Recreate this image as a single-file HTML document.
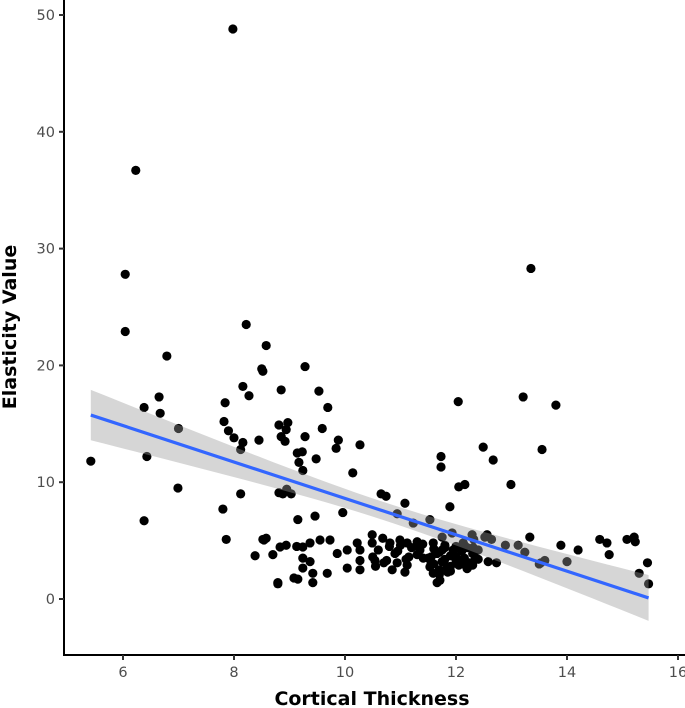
<!DOCTYPE html>
<html><head><meta charset="utf-8"><style>
body{margin:0;background:#fff;}
svg{display:block;font-family:"DejaVu Sans","Liberation Sans",sans-serif;}
</style></head><body>
<svg id="chart" width="685" height="708"></svg>
<script>
const xs=[5.42,6.23,6.04,6.04,6.38,6.43,6.38,6.65,6.67,6.79,7.0,6.99,7.98,8.22,7.84,7.82,7.9,8.0,8.16,8.12,8.16,8.27,8.58,8.5,8.52,8.45,7.8,7.86,8.12,8.38,8.52,8.58,8.81,8.81,8.85,8.85,8.92,8.94,8.97,8.88,8.95,9.03,8.94,8.7,8.79,9.14,9.17,9.24,9.23,9.28,9.28,9.15,9.13,9.08,9.48,9.46,9.53,9.59,9.69,9.84,9.88,9.96,10.14,10.27,10.65,10.74,11.08,10.94,11.23,11.53,11.73,11.73,11.89,12.04,12.05,12.16,12.49,12.67,12.99,13.21,13.35,13.55,13.8,14.2,14.59,14.72,14.76,15.08,15.21,15.23,15.45,15.47,13.89,13.53,13.6,13.33,13.24,13.12,12.89,12.64,12.52,12.73,12.31,12.32,
8.54,8.83,9.24,9.37,9.55,9.73,9.24,9.37,9.24,9.42,9.42,9.68,9.86,10.04,10.22,10.27,10.27,10.27,10.04,10.49,10.49,10.54,10.68,10.81,10.99,11.12,11.3,10.85,10.94,11.12,11.08,11.35,11.41,11.59,11.66,11.53,11.59,11.71,11.84,11.95,12.07,12.13,12.22,12.38,12.29,12.56,12.58,11.93,11.75,11.66,9.15,8.79,
11.6,11.7,11.8,11.9,12.0,12.1,12.2,11.65,11.75,11.85,11.95,12.05,12.15,12.25,11.7,11.8,11.9,12.0,12.1,11.55,12.3,12.4,13.5,14.0,15.3,
10.5,10.6,10.7,10.8,10.9,11.0,11.1,11.2,11.3,11.4,11.5,11.6,11.7,11.8,11.9,12.0,12.1,12.2,12.3,12.4,10.55,10.75,10.95,11.15,11.35,11.55,11.75,11.95,12.15,12.35];
const ys=[11.8,36.7,27.8,22.9,16.4,12.2,6.7,17.3,15.9,20.8,14.6,9.5,48.8,23.5,16.8,15.2,14.4,13.8,13.4,12.8,18.2,17.4,21.7,19.7,19.5,13.6,7.7,5.1,9.0,3.7,5.1,5.2,9.1,14.9,13.9,17.9,13.5,14.5,15.1,9.0,9.4,9.0,4.6,3.8,1.3,12.5,11.7,11.0,12.6,19.9,13.9,6.8,4.5,1.8,12.0,7.1,17.8,14.6,16.4,12.9,13.6,7.4,10.8,13.2,9.0,8.8,8.2,7.3,6.5,6.8,12.2,11.3,7.9,16.9,9.6,9.8,13.0,11.9,9.8,17.3,28.3,12.8,16.6,4.2,5.1,4.8,3.8,5.1,5.3,4.9,3.1,1.3,4.6,3.1,3.3,5.3,4.0,4.6,4.6,5.1,5.3,3.1,4.4,5.1,
5.05,4.45,4.45,4.8,5.05,5.05,3.5,3.2,2.65,2.2,1.4,2.2,3.9,4.2,4.8,4.2,3.3,2.5,2.65,5.5,4.8,3.3,5.2,4.8,5.05,4.8,4.9,2.5,3.1,2.9,2.3,4.2,3.5,4.8,3.9,2.75,2.2,1.6,2.75,4.2,3.3,4.8,2.75,4.2,5.5,5.5,3.2,5.65,5.3,1.4,1.7,1.4,
3.0,2.5,3.4,2.8,3.6,3.0,2.6,4.0,3.2,2.3,3.8,2.9,3.5,3.1,2.1,4.4,2.4,3.3,4.1,3.6,2.9,3.4,3.0,3.2,2.2,
3.6,4.2,3.1,4.5,3.9,4.6,3.4,4.4,3.8,4.7,3.5,4.3,4.0,4.6,3.7,4.5,4.1,4.4,3.9,4.2,2.8,3.3,4.1,3.6,4.5,3.0,4.2,3.8,4.6,3.5];
const xTicks=[6,8,10,12,14,16];
const yTicks=[0,10,20,30,40,50];
const X=v=>123+(v-6)*55.5;
const Y=v=>599-v*11.68;
const svg=document.getElementById('chart');
const NS='http://www.w3.org/2000/svg';
function mk(t,a,p){const e=document.createElementNS(NS,t);for(const k in a)e.setAttribute(k,a[k]);(p||svg).appendChild(e);return e;}
const n=xs.length;let mx=0,my=0;for(let i=0;i<n;i++){mx+=xs[i];my+=ys[i];}mx/=n;my/=n;
let sxx=0,sxy=0;for(let i=0;i<n;i++){sxx+=(xs[i]-mx)**2;sxy+=(xs[i]-mx)*(ys[i]-my);}
const b=sxy/sxx,a=my-b*mx;let sse=0;for(let i=0;i<n;i++)sse+=(ys[i]-a-b*xs[i])**2;
const s=Math.sqrt(sse/(n-2));const x0=Math.min(...xs),x1=Math.max(...xs);
let up=[],lo=[];for(let k=0;k<=40;k++){const x=x0+(x1-x0)*k/40;const f=a+b*x;const se=1.97*s*Math.sqrt(1/n+(x-mx)**2/sxx);up.push(X(x)+','+Y(f+se));lo.unshift(X(x)+','+Y(f-se));}
const g=mk('g',{});


for(let i=0;i<n;i++){const c=mk('circle',{cx:X(xs[i]),cy:Y(ys[i]),r:4.6,fill:'#000'},g);

}
const band=mk('polygon',{points:up.concat(lo).join(' '),fill:'#999',opacity:0.4});


const ln=mk('line',{x1:X(x0),y1:Y(a+b*x0),x2:X(x1),y2:Y(a+b*x1),stroke:'#3366FF','stroke-width':3.2});


const ax=mk('path',{d:'M64,0V655H685',fill:'none',stroke:'#000','stroke-width':2});


xTicks.forEach(v=>{mk('line',{x1:X(v),x2:X(v),y1:655,y2:660,stroke:'#333','stroke-width':2});
const t=mk('text',{x:X(v),y:677,'text-anchor':'middle','font-size':14.5,fill:'#4d4d4d'});t.textContent=v;

});
yTicks.forEach(v=>{mk('line',{x1:59,x2:64,y1:Y(v),y2:Y(v),stroke:'#333','stroke-width':2});
const t=mk('text',{x:55,y:Y(v)+5,'text-anchor':'end','font-size':14.5,fill:'#4d4d4d'});t.textContent=v;

});
const xt=mk('text',{x:372,y:705,'text-anchor':'middle','font-size':19,'font-weight':'bold'});xt.textContent='Cortical Thickness';


const yt=mk('text',{x:0,y:0,'text-anchor':'middle','font-size':19,'font-weight':'bold',transform:'translate(16,327) rotate(-90)'});yt.textContent='Elasticity Value';


</script>
</body></html>
